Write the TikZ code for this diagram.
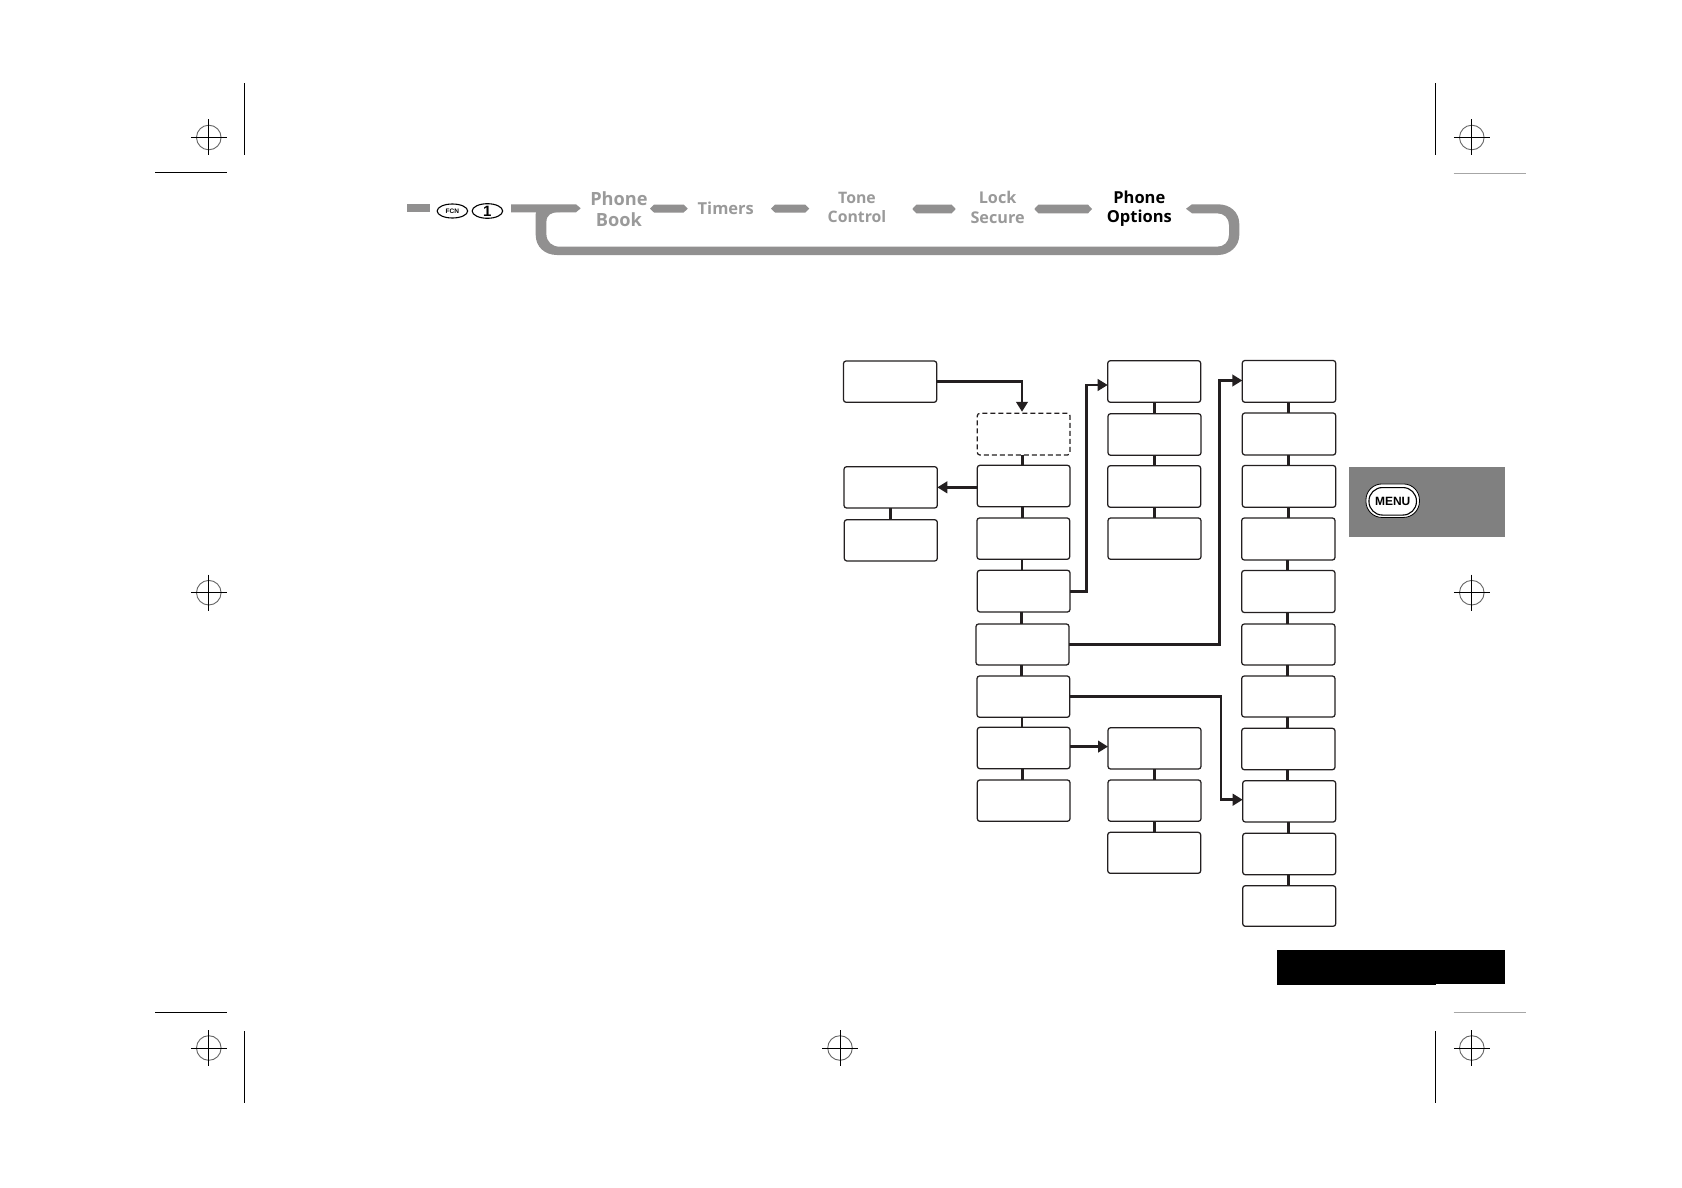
\documentclass[tikz,border=0pt]{standalone}
\usepackage{fontspec}
\usetikzlibrary{arrows.meta,shapes.geometric}
\setmainfont{Open Sans}
\newfontfamily\hdfont{Open Sans}
\newfontfamily\arialfont{Liberation Sans}
\definecolor{bandgray}{HTML}{919090}
\definecolor{inkdark}{HTML}{231F20}
\definecolor{tabgray}{HTML}{808080}
\definecolor{labelgray}{HTML}{9A9A9A}
\tikzset{
  box/.style={draw=inkdark,fill=white,rounded corners=2.6pt,line width=1.25pt,inner sep=0pt,outer sep=0pt},
  dashbox/.style={box,dash pattern=on 5pt off 3pt},
  linkline/.style={draw=inkdark,line width=2.7pt},
  conn/.style={draw=inkdark,line width=2.7pt,line join=miter,-{Triangle[length=10pt,width=11.5pt]}},
  bandfill/.style={fill=bandgray,draw=none},
  cropline/.style={draw=black,line width=1pt},
  graycrop/.style={draw=black!35,line width=.8pt},
  regring/.style={draw=black!60,line width=.9pt},
  headlabel/.style={align=center,font=\hdfont\bfseries\fontsize{16.5}{19}\selectfont,text=labelgray,inner sep=0pt},
  keyoval/.style={draw=black,line width=1.1pt,fill=white,ellipse,inner sep=0pt,minimum width=30.5pt,minimum height=14pt}
}
\newcommand{\boxnode}[6][box]{%
  \pgfmathsetmacro{\bw}{#5-#3}\pgfmathsetmacro{\bh}{#6-#4}%
  \pgfmathsetmacro{\bcx}{(#5+#3)/2}\pgfmathsetmacro{\bcy}{(#6+#4)/2}%
  \node[#1,minimum width=\bw pt,minimum height=\bh pt] (#2) at (\bcx,\bcy) {};}
\newcommand{\regmark}[2]{%
  \draw[regring] (#1,#2) circle (12.3pt);
  \draw[cropline] (#1-18,#2) -- (#1+18,#2) (#1,#2-18) -- (#1,#2+18);}
\newcommand{\hexbar}[4]{% x1 x2 y1 y2
  \fill[bandfill] (#1,{(#3+#4)/2}) -- (#1+4,#3) -- (#2-4,#3) -- (#2,{(#3+#4)/2}) -- (#2-4,#4) -- (#1+4,#4) -- cycle;}
\begin{document}
\begin{tikzpicture}[x=1pt,y=-1pt]
\useasboundingbox (0,0) rectangle (1682,1188);
\fill[white] (0,0) rectangle (1682,1188);

% registration and crop marks
\regmark{208.8}{137.5}
\regmark{1471.8}{137.5}
\regmark{208.8}{592.7}
\regmark{1471.8}{592.7}
\regmark{208.8}{1048}
\regmark{840}{1048}
\regmark{1471.8}{1048}
\draw[cropline] (244.3,83.5) -- (244.3,154.7);
\draw[cropline] (1435.5,83.5) -- (1435.5,154.7);
\draw[cropline] (244.3,1031) -- (244.3,1102.5);
\draw[cropline] (1435.5,1031) -- (1435.5,1102.5);
\draw[cropline] (155,173) -- (227,173);
\draw[cropline] (155,1012.2) -- (227,1012.2);
\draw[graycrop] (1453.5,173) -- (1525.5,173);
\draw[graycrop] (1453.5,1012.2) -- (1525.5,1012.2);

% header band
\fill[bandfill] (406.7,204.3) rectangle (430,212.3);
\fill[bandfill] (511,204.3) -- (576,204.3) -- (580.7,208.3) -- (576,212.3) -- (511,212.3) -- cycle;
\fill[bandfill] (535.7,214)
  -- (535.7,235) .. controls (535.7,247) and (545,255) .. (557,255)
  -- (1218,255) .. controls (1230,255) and (1239.3,246) .. (1239.3,235)
  -- (1239.3,224) .. controls (1239.3,212) and (1230,204.3) .. (1218,204.3)
  -- (1192,204.3) -- (1186,208.8) -- (1192,213.3)
  -- (1217,213.3) .. controls (1224,213.3) and (1229,218) .. (1229,225)
  -- (1229,235) .. controls (1229,242) and (1224,246.7) .. (1217,246.7)
  -- (560,246.7) .. controls (552,246.7) and (546.4,242) .. (546.4,234)
  -- (546.4,222) .. controls (546.4,215) and (551,212) .. (560,212)
  -- (560,205) -- (546,205) .. controls (540,206) and (536,208) .. (535.7,214) -- cycle;
\hexbar{650}{687.7}{204.7}{212.5}
\hexbar{771}{809.3}{204.7}{212.5}
\hexbar{912.3}{955.7}{204.7}{213.3}
\hexbar{1034.3}{1092}{204.7}{213.3}

\node[keyoval,font=\arialfont\bfseries\fontsize{6.5}{7}\selectfont] (fcnkey) at (452.4,211) {FCN};
\node[keyoval,font=\arialfont\bfseries\fontsize{15}{16}\selectfont] (onekey) at (487.4,211) {1};

\node[headlabel,font=\hdfont\bfseries\fontsize{18.2}{21}\selectfont] (phonebook) at (619,208.8) {Phone\\Book};
\node[headlabel] (timers) at (725.8,208.2) {Timers};
\node[headlabel,font=\hdfont\bfseries\fontsize{15.8}{19}\selectfont] (tone) at (857,207.8) {Tone\\Control};
\node[headlabel,font=\hdfont\bfseries\fontsize{16.2}{19.4}\selectfont] (lock) at (997.6,207.4) {Lock\\Secure};
\node[headlabel,text=black,font=\hdfont\bfseries\fontsize{16.5}{19}\selectfont] (options) at (1139.3,209.2) {Phone\\Options};

% side tab and black block
\fill[tabgray] (1349,467) rectangle (1505,537);
\node[draw=black,line width=.8pt,fill=white,rounded corners=16pt,minimum width=53.5pt,minimum height=33.5pt,inner sep=0pt] (menuouter) at (1392.7,500.7) {};
\node[draw=black,line width=1.1pt,fill=white,rounded corners=13.5pt,minimum width=47.5pt,minimum height=27.5pt,inner sep=0pt,font=\arialfont\bfseries\fontsize{12}{14}\selectfont] (menu) at (1392.7,501.3) {MENU};
\fill[black] (1277,950) rectangle (1505,984);
\fill[black] (1277,984) rectangle (1435.7,985);

% boxes
\boxnode{start}{843.5}{361}{936.7}{402.3}
\boxnode[dashbox]{dashed}{977.3}{413.3}{1070}{455}
\boxnode{ma}{977.3}{465.3}{1070}{506.7}
\boxnode{mb}{977}{518}{1069.7}{559.3}
\boxnode{mc}{977.3}{570.3}{1070}{612}
\boxnode{md}{976}{624}{1069}{665}
\boxnode{me}{977}{676}{1069.7}{717.3}
\boxnode{mf}{977.3}{727.3}{1070}{768.7}
\boxnode{mg}{977.3}{780}{1070}{821.3}
\boxnode{la}{844}{466.7}{937.3}{508}
\boxnode{lb}{844.3}{519.7}{937.3}{561}
\boxnode{ca}{1107.7}{360.7}{1200.7}{402.3}
\boxnode{cb}{1108}{413.7}{1201}{455.3}
\boxnode{cc}{1107.7}{465.7}{1200.7}{507.3}
\boxnode{cd}{1108}{518}{1201}{559.3}
\boxnode{ce}{1108}{727.7}{1201}{769}
\boxnode{cf}{1108}{780}{1201}{821.3}
\boxnode{cg}{1107.7}{832.3}{1200.7}{873.3}
\boxnode{ra}{1242.3}{360.5}{1335.7}{402.3}
\boxnode{rb}{1242.3}{413}{1335.7}{455}
\boxnode{rc}{1242.3}{465.5}{1335.7}{507.3}
\boxnode{rd}{1241.7}{518}{1335}{560}
\boxnode{re}{1241.7}{570.5}{1335}{612.5}
\boxnode{rf}{1241.7}{624}{1335}{665}
\boxnode{rg}{1241.7}{676}{1335}{717}
\boxnode{rh}{1241.7}{728.3}{1335}{769.7}
\boxnode{ri}{1242.7}{780.7}{1335.7}{822}
\boxnode{rj}{1242.7}{833.3}{1335.7}{874.7}
\boxnode{rk}{1242.7}{885.7}{1335.7}{926.3}

% vertical links
\foreach \a/\b in {dashed/ma,ma/mb,mb/mc,me/mf,mf/mg}
  \draw[linkline] ([xshift=-1.4pt]\a.south) -- ([xshift=-1.4pt]\a.south|-\b.north);
\foreach \a/\b in {mc/md,md/me}
  \draw[linkline] ([xshift=-1pt]md.south|-\a.south) -- ([xshift=-1pt]md.south|-\b.north);
\foreach \a/\b in {la/lb,ca/cb,cb/cc,cc/cd,ce/cf,cf/cg}
  \draw[linkline] (\a.south) -- (\a.south|-\b.north);
\foreach \a/\b in {ra/rb,rb/rc,rc/rd,rd/re,re/rf,rf/rg,rg/rh,rh/ri,ri/rj,rj/rk}
  \draw[linkline] ([xshift=-.7pt]\a.south) -- ([xshift=-.7pt]\a.south|-\b.north);

% arrows
\coordinate (j0) at (1022,381.6);
\coordinate (j1) at (1086.7,385);
\coordinate (j2) at (1219.7,380.5);
\coordinate (j3) at (1221,799.7);
\coordinate (j4) at (1070,746.6);
\draw[conn,shorten >=1.5pt] (start.east) -| (dashed.north-|j0);
\draw[conn] (ma.west|-la.east) -- (la.east);
\draw[conn] (mc.east) -| (j1) -- (ca.west|-j1);
\draw[conn] (md.east) -| (j2) -- (ra.west|-j2);
\draw[conn] (me.east) -| (j3) -- (ri.west|-j3);
\draw[conn] (j4) -- (ce.west|-j4);
\end{tikzpicture}
\end{document}
